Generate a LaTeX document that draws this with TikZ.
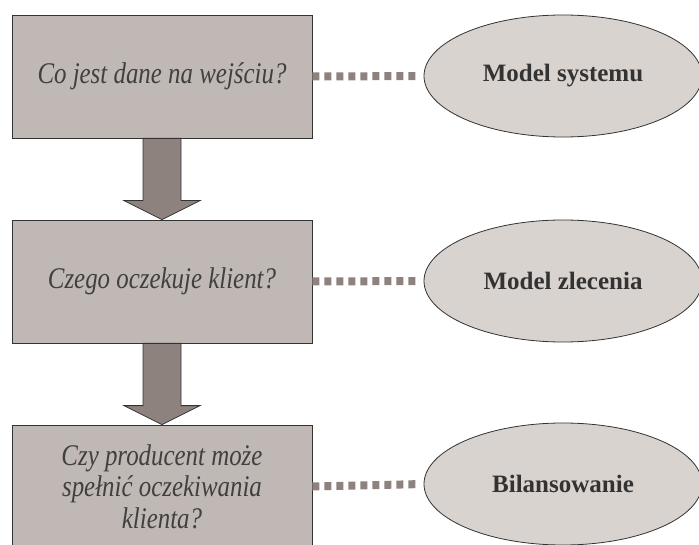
\documentclass[tikz,border=0pt]{standalone}
\usepackage{fontspec}
\setmainfont{Liberation Serif}
\newfontfamily\questionfont[FakeStretch=0.83]{Liberation Serif}
\usetikzlibrary{calc,shapes.geometric}
\definecolor{flow@box}{RGB}{192,184,181}
\definecolor{flow@arrow}{RGB}{142,130,127}
\definecolor{flow@oval}{RGB}{217,211,208}
\definecolor{flow@line}{RGB}{51,51,51}
\definecolor{flow@text}{RGB}{64,64,64}

\tikzset{
  question/.style={
    draw=flow@line, fill=flow@box, line width=0.8pt,
    minimum width=300pt, minimum height=123pt, inner sep=0pt,
    align=center, text=flow@text,
    font=\questionfont\fontsize{30}{31.5}\selectfont\itshape,
  },
  answer/.style={
    ellipse, draw=flow@line, fill=flow@oval, line width=0.8pt,
    minimum width=278pt, minimum height=122pt, inner sep=0pt,
    text=flow@line, font=\fontsize{25}{30}\selectfont\bfseries,
  },
  link/.style={
    draw=flow@arrow, line width=8pt, dash pattern=on 7pt off 5pt,
    shorten >=6pt,
  },
  blockarrow/.style={
    draw=flow@line, fill=flow@arrow, line width=0.8pt, line join=miter,
  },
}

\begin{document}
\begin{tikzpicture}[x=1pt,y=-1pt]
\clip (0,0) rectangle (699,545);

% questions
\node[question] (input) at (162,76.5) {Co jest dane na wejściu?};
\node[question] (client) at (162,281.5) {Czego oczekuje klient?};
\node[question] (producer) at (162,486.5)
  {Czy producent może\\spełnić oczekiwania\\klienta?};

% models
\node[answer] (system) at (563,76) {Model systemu};
\node[answer] (order) at (563,281) {Model zlecenia};
\node[answer] (balance) at (563,484) {Bilansowanie};

% dotted links
\draw[link] (input.east) -- (system.west);
\draw[link] (client.east) -- (order.west);
\draw[link] (producer.east) -- (balance.west);

% block arrows
\draw[blockarrow]
  ($(input.south)+(-19,0)$) -- ($(client.north)+(-19,-19)$)
  -- ($(client.north)+(-38,-19)$) -- (client.north)
  -- ($(client.north)+(38,-19)$) -- ($(client.north)+(19,-19)$)
  -- ($(input.south)+(19,0)$) -- cycle;
\draw[blockarrow]
  ($(client.south)+(-19,0)$) -- ($(producer.north)+(-19,-19)$)
  -- ($(producer.north)+(-38,-19)$) -- (producer.north)
  -- ($(producer.north)+(38,-19)$) -- ($(producer.north)+(19,-19)$)
  -- ($(client.south)+(19,0)$) -- cycle;

\end{tikzpicture}
\end{document}
